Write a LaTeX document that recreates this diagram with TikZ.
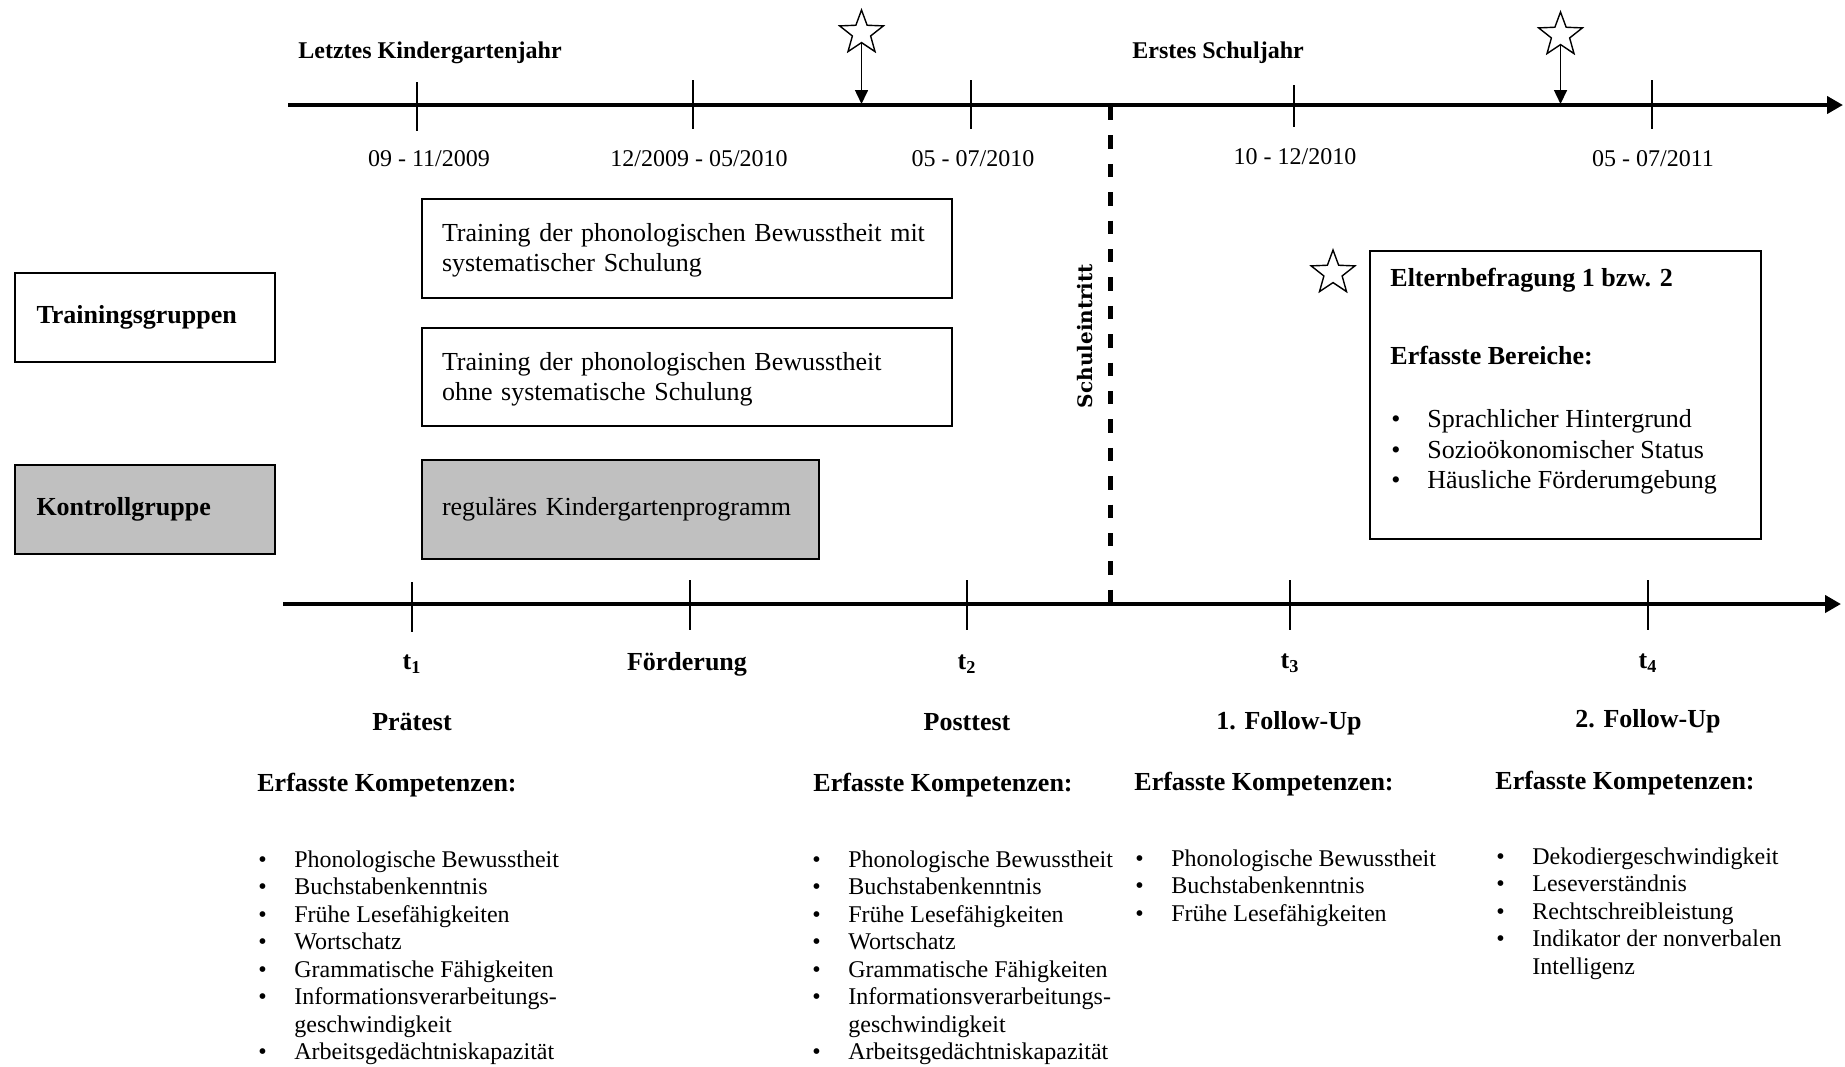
\documentclass[tikz,border=0pt]{standalone}
\usepackage{fontspec}
\setmainfont{Liberation Serif}
\newfontfamily\schfont{DejaVu Serif}
\usetikzlibrary{arrows.meta,shapes.geometric}
\definecolor{boxgray}{RGB}{192,192,192}
\newcommand\myitem[1]{\hbox{\makebox[18pt][l]{\textbullet}#1}}
\newcommand\mycont[1]{\hbox{\hspace*{18pt}#1}}
\begin{document}
\begin{tikzpicture}[x=0.5pt,y=-0.5pt,
  fA/.style={font=\fontsize{12}{13.75}\selectfont},
  fB/.style={font=\fontsize{13}{15}\selectfont},
  fBl/.style={font=\fontsize{13}{15.3}\selectfont},
  fBb/.style={font=\fontsize{13}{15}\selectfont\bfseries},
  fAb/.style={font=\fontsize{12}{13.75}\selectfont\bfseries},
  lbl/.style={inner sep=0pt, anchor=base},
  lblw/.style={inner sep=0pt, anchor=base west},
  timeaxis/.style={line width=2pt,-{Triangle[length=8pt,width=8.5pt]}},
  tickline/.style={line width=0.9pt},
  boxframe/.style={draw, line width=1.1pt, inner ysep=0pt, align=left},
  starmark/.style={star, star points=5, star point ratio=2.4, draw, line width=0.7pt, minimum size=23pt, inner sep=0pt},
  starrow/.style={line width=0.8pt, -{Triangle[length=7pt,width=6.5pt]}},
  schoolline/.style={line width=2.3pt, dash pattern=on 6.7pt off 7.5pt},
]
\useasboundingbox (0,0) rectangle (1845,1066);

% ---------- top time axis ----------
\coordinate (ta0) at (288,105);
\coordinate (ta1) at (1843,105);
\draw[timeaxis] (ta0) -- (ta1);
\foreach \x/\a/\b in {416.7/82/131, 693/80/129, 971/80/129, 1293.7/85/127, 1652/80/129}
  \draw[tickline] (\x,\a) -- (\x,\b);

\node[fAb,lblw] (lkj) at (298,58.5) {Letztes Kindergartenjahr};
\node[fAb,lblw] (esj) at (1132,58.5) {Erstes Schuljahr};

\node[fA,lbl] (d1) at (429,166.5) {09 - 11/2009};
\node[fA,lbl] (d2) at (699,166.5) {12/2009 - 05/2010};
\node[fA,lbl] (d3) at (973,166.5) {05 - 07/2010};
\node[fA,lbl] (d4) at (1295,164) {10 - 12/2010};
\node[fA,lbl] (d5) at (1653,166.5) {05 - 07/2011};

% stars
\node[starmark] (st1) at (861.5,33) {};
\coordinate (st1e) at (861.5,104);
\draw[starrow] (st1.south) -- (st1e);
\node[starmark] (st2) at (1560.5,35) {};
\coordinate (st2e) at (1560.5,104);
\draw[starrow] (st2.south) -- (st2e);
\node[starmark] (st3) at (1333,273) {};

% ---------- group boxes ----------
\node[boxframe, fBb, text width=108.5pt, inner xsep=10.75pt, minimum height=44.5pt] (tg) at (145,317.5) {Trainingsgruppen};
\node[boxframe, fBb, fill=boxgray, text width=108.5pt, inner xsep=10.75pt, minimum height=44.5pt] (kg) at (145,509.5) {Kontrollgruppe};

\node[boxframe, fB, text width=245pt, inner xsep=10pt, minimum height=49.5pt] (tb1) at (687,248.5)
  {\rule{0pt}{11.2pt}Training der phonologischen Bewusstheit mit\\systematischer Schulung};
\node[boxframe, fB, text width=245pt, inner xsep=10pt, minimum height=49pt] (tb2) at (687,377)
  {\rule{0pt}{11.2pt}Training der phonologischen Bewusstheit\\ohne systematische Schulung};
\node[boxframe, fB, fill=boxgray, text width=178.5pt, inner xsep=10pt, minimum height=49.5pt] (rk) at (620.5,509.5)
  {reguläres Kindergartenprogramm};

% ---------- school entry ----------
\coordinate (sl0) at (1110.5,107);
\coordinate (sl1) at (1110.5,602);
\draw[schoolline] (sl0) -- (sl1);
\node[rotate=90, inner sep=0pt, font=\schfont\bfseries\fontsize{10}{12}\selectfont] (se) at (1085,336) {Schuleintritt};

% ---------- parent survey box ----------
\node[draw, line width=1.1pt, minimum width=195.5pt, minimum height=144pt, inner sep=0pt] (eb) at (1565.5,395) {};
\node[fBb,lblw] (ebt) at (1390,286.7) {Elternbefragung 1 bzw. 2};
\node[fBb,lblw] (ebb) at (1390,364) {Erfasste Bereiche:};
\node[fBl,lblw] (ebl) at (1391,427.5) {\vtop{\myitem{Sprachlicher Hintergrund}\myitem{Sozioökonomischer Status}\myitem{Häusliche Förderumgebung}}};

% ---------- bottom time axis ----------
\coordinate (ba0) at (283,604);
\coordinate (ba1) at (1841,604);
\draw[timeaxis] (ba0) -- (ba1);
\foreach \x/\a/\b in {412/582/632, 690/580/630, 967/580/630, 1290/580/630, 1648/580/630}
  \draw[tickline] (\x,\a) -- (\x,\b);

\node[fBb,lbl] (t1) at (412,669.5) {t\textsubscript{1}};
\node[fBb,lbl] (fo) at (687,670) {Förderung};
\node[fBb,lbl] (t2) at (967,669.5) {t\textsubscript{2}};
\node[fBb,lbl] (t3) at (1290,668.5) {t\textsubscript{3}};
\node[fBb,lbl] (t4) at (1648,668.5) {t\textsubscript{4}};

\node[fBb,lbl] (pre) at (412,730.7) {Prätest};
\node[fBb,lbl] (post) at (967,730.7) {Posttest};
\node[fBb,lbl] (fu1) at (1289,729) {1. Follow-Up};
\node[fBb,lbl] (fu2) at (1648,727) {2. Follow-Up};

\node[fBb,lblw] (ek1) at (257,791.5) {Erfasste Kompetenzen:};
\node[fBb,lblw] (ek2) at (813,791.5) {Erfasste Kompetenzen:};
\node[fBb,lblw] (ek3) at (1134,790) {Erfasste Kompetenzen:};
\node[fBb,lblw] (ek4) at (1495,789) {Erfasste Kompetenzen:};

\node[fA,lblw] (l1) at (258,867) {\vtop{\myitem{Phonologische Bewusstheit}\myitem{Buchstabenkenntnis}\myitem{Frühe Lesefähigkeiten}\myitem{Wortschatz}\myitem{Grammatische Fähigkeiten}\myitem{Informationsverarbeitungs-}\mycont{geschwindigkeit}\myitem{Arbeitsgedächtniskapazität}}};
\node[fA,lblw] (l2) at (812,867) {\vtop{\myitem{Phonologische Bewusstheit}\myitem{Buchstabenkenntnis}\myitem{Frühe Lesefähigkeiten}\myitem{Wortschatz}\myitem{Grammatische Fähigkeiten}\myitem{Informationsverarbeitungs-}\mycont{geschwindigkeit}\myitem{Arbeitsgedächtniskapazität}}};
\node[fA,lblw] (l3) at (1135,866) {\vtop{\myitem{Phonologische Bewusstheit}\myitem{Buchstabenkenntnis}\myitem{Frühe Lesefähigkeiten}}};
\node[fA,lblw] (l4) at (1496,864) {\vtop{\myitem{Dekodiergeschwindigkeit}\myitem{Leseverständnis}\myitem{Rechtschreibleistung}\myitem{Indikator der nonverbalen}\mycont{Intelligenz}}};

\end{tikzpicture}
\end{document}
